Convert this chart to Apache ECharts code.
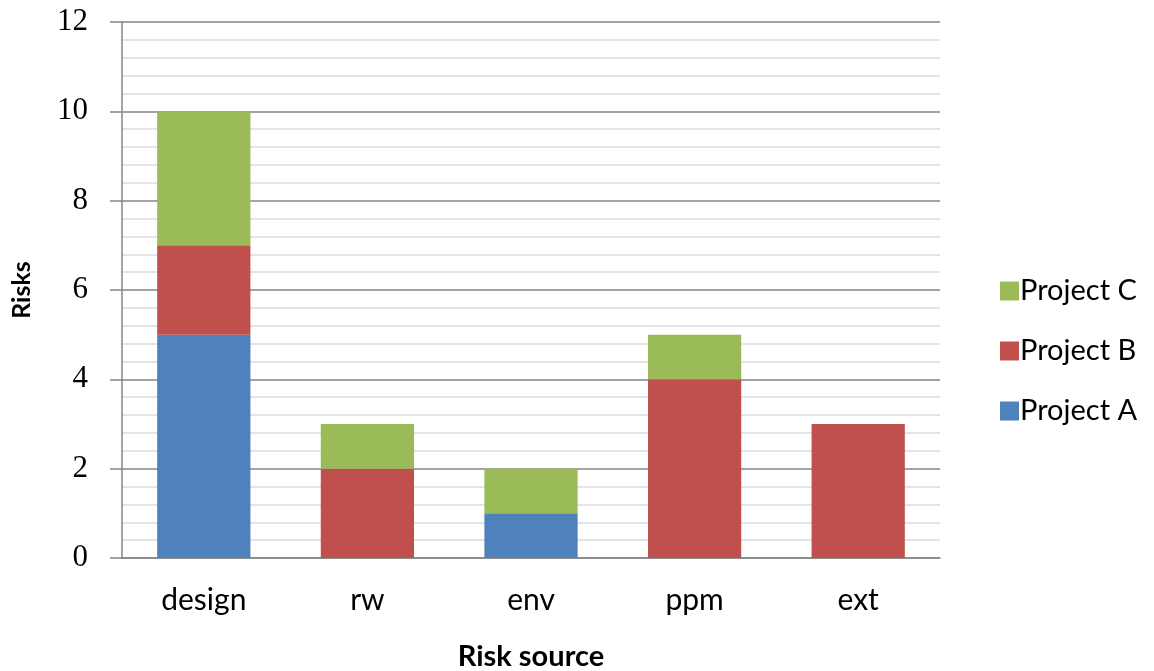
<!DOCTYPE html>
<html>
<head>
<meta charset="utf-8">
<title>Risks by source</title>
<script src="https://cdn.jsdelivr.net/npm/echarts@6/dist/echarts.min.js"></script>
<style>
  html, body { margin: 0; padding: 0; background: #ffffff; }
  #chart { width: 1154px; height: 671px; }
</style>
</head>
<body>
<div id="chart"></div>
<script>
// Risk counts per source, stacked by project
const categories = ['design', 'rw', 'env', 'ppm', 'ext'];
const projectA = [5, 0, 1, 0, 0];
const projectB = [2, 2, 0, 4, 3];
const projectC = [3, 1, 1, 1, 0];
const legendOrder = ['Project C', 'Project B', 'Project A'];

const SANS = 'Lato, "Open Sans", sans-serif';
const SERIF = '"Liberation Serif", "DejaVu Serif", serif';

const chart = echarts.init(document.getElementById('chart'), null, { renderer: 'canvas' });

function stackSeries(name, data, color) {
  return {
    name: name,
    type: 'bar',
    stack: 'risks',
    data: data,
    barWidth: '57%',
    itemStyle: { color: color },
    emphasis: { disabled: true }
  };
}

chart.setOption({
  animation: false,
  backgroundColor: '#ffffff',
  grid: {
    left: 122, right: 214, top: 22, bottom: 113,
    containLabel: false,
    outerBoundsMode: 'none'
  },
  legend: {
    orient: 'vertical',
    left: 995,
    top: 271,
    itemWidth: 19,
    itemHeight: 19,
    itemGap: 30,
    icon: 'rect',
    data: legendOrder,
    textStyle: {
      fontFamily: SANS, fontSize: 29, lineHeight: 30,
      color: '#000000', padding: [0, 0, 0, -4]
    }
  },
  xAxis: {
    type: 'category',
    data: categories,
    name: 'Risk source',
    nameLocation: 'middle',
    nameGap: 84,
    nameTextStyle: { fontFamily: SANS, fontSize: 29, fontWeight: 'bold', color: '#000000' },
    axisLine: { show: true, lineStyle: { color: '#868686', width: 1.5 } },
    axisTick: { show: false },
    axisLabel: { fontFamily: SANS, fontSize: 30, color: '#000000', margin: 27 },
    splitLine: { show: false }
  },
  yAxis: {
    type: 'value',
    min: 0,
    max: 12,
    interval: 2,
    name: 'Risks',
    nameLocation: 'middle',
    nameGap: 88,
    nameRotate: 90,
    nameTextStyle: { fontFamily: SANS, fontSize: 25, fontWeight: 'bold', color: '#000000' },
    axisLine: { show: true, lineStyle: { color: '#868686', width: 1.5 } },
    axisTick: { show: true, length: 12, lineStyle: { color: '#868686', width: 1.5 } },
    axisLabel: { fontFamily: SERIF, fontSize: 31, color: '#000000', margin: 34 },
    splitLine: { show: true, lineStyle: { color: '#868686', width: 1.5 } },
    minorTick: { show: false, splitNumber: 5 },
    minorSplitLine: { show: true, lineStyle: { color: '#dcdcdc', width: 1.5 } }
  },
  series: [
    stackSeries('Project A', projectA, '#4f81bd'),
    stackSeries('Project B', projectB, '#c0504d'),
    stackSeries('Project C', projectC, '#9bbb59')
  ]
});
</script>
</body>
</html>
